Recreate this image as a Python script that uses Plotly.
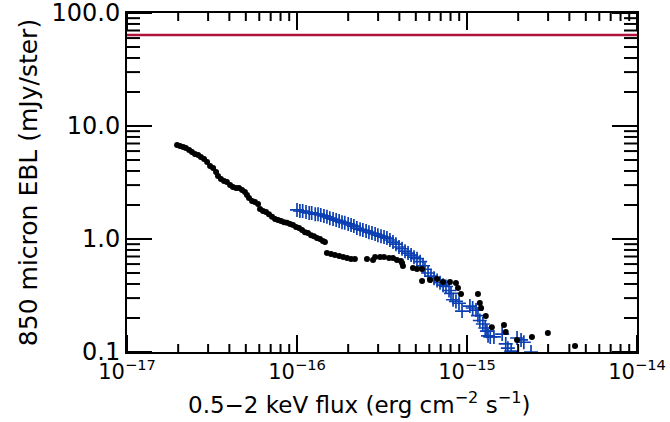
import plotly.graph_objects as go

# Black dots: cumulative 850 micron EBL vs 0.5-2 keV flux (dense faint part + sparse bright part)
black_flux = [
    1.97e-17, 2.05e-17, 2.14e-17, 2.22e-17, 2.32e-17, 2.41e-17, 2.51e-17, 2.62e-17, 2.72e-17, 2.84e-17,
    2.96e-17, 3.08e-17, 3.21e-17, 3.34e-17, 3.43e-17, 3.57e-17, 3.72e-17, 3.87e-17, 4.04e-17, 4.20e-17,
    4.38e-17, 4.56e-17, 4.75e-17, 4.94e-17, 5.08e-17, 5.22e-17, 5.44e-17, 5.66e-17, 5.90e-17, 6.06e-17,
    6.31e-17, 6.57e-17, 6.84e-17, 7.13e-17, 7.43e-17, 7.73e-17, 8.05e-17, 8.39e-17, 8.73e-17, 9.10e-17,
    9.47e-17, 9.87e-17, 1.028e-16, 1.07e-16, 1.114e-16, 1.16e-16, 1.21e-16, 1.259e-16, 1.31e-16, 1.365e-16,
    1.42e-16, 1.46e-16,
    1.50e-16, 1.585e-16, 1.67e-16, 1.77e-16, 1.87e-16, 1.97e-16, 2.08e-16, 2.19e-16, 2.58e-16, 2.80e-16,
    2.88e-16, 3.08e-16, 3.25e-16, 3.48e-16, 3.67e-16, 3.87e-16, 4.09e-16, 4.15e-16, 4.20e-16, 4.81e-16,
    5.08e-16, 5.44e-16, 5.44e-16, 6.06e-16, 6.67e-16, 7.23e-16, 7.94e-16, 8.61e-16, 8.85e-16, 9.22e-16,
    1.16e-15, 1.19e-15, 1.21e-15, 1.29e-15, 1.40e-15, 1.65e-15, 1.69e-15, 1.97e-15, 2.41e-15, 2.99e-15,
    4.32e-15,
]
black_ebl = [
    6.79, 6.65, 6.52, 6.39, 6.13, 5.89, 5.65, 5.54, 5.32, 5.10,
    4.80, 4.43, 4.25, 3.92, 3.61, 3.40, 3.26, 3.19, 3.01, 2.88,
    2.83, 2.83, 2.71, 2.61, 2.45, 2.31, 2.17, 2.12, 2.04, 1.84,
    1.77, 1.73, 1.66, 1.57, 1.50, 1.47, 1.44, 1.41, 1.39, 1.36,
    1.33, 1.28, 1.25, 1.20, 1.15, 1.13, 1.08, 1.06, 1.02, 1.00,
    0.96, 0.94,
    0.752, 0.736, 0.721, 0.708, 0.693, 0.679, 0.665, 0.665, 0.665, 0.652,
    0.693, 0.693, 0.693, 0.679, 0.679, 0.652, 0.638, 0.613, 0.577, 0.554,
    0.543, 0.543, 0.425, 0.434, 0.443, 0.416, 0.416, 0.408, 0.368, 0.326,
    0.326, 0.271, 0.245, 0.208, 0.166, 0.173, 0.150, 0.128, 0.136, 0.147,
    0.113,
]

# Blue crosses
blue_flux = [
    1.00e-16, 1.04e-16, 1.08e-16, 1.13e-16, 1.18e-16, 1.22e-16, 1.28e-16, 1.33e-16, 1.38e-16, 1.44e-16,
    1.50e-16, 1.56e-16, 1.63e-16, 1.70e-16, 1.77e-16, 1.84e-16, 1.91e-16, 2.00e-16, 2.08e-16, 2.16e-16,
    2.25e-16, 2.35e-16, 2.44e-16, 2.55e-16, 2.65e-16, 2.76e-16, 2.88e-16, 2.99e-16, 3.12e-16, 3.25e-16,
    3.38e-16, 3.52e-16, 3.67e-16, 3.82e-16, 3.98e-16, 4.15e-16, 4.32e-16, 4.50e-16, 4.69e-16, 4.88e-16,
    5.08e-16, 5.30e-16, 5.51e-16, 5.66e-16, 5.90e-16, 6.14e-16, 6.40e-16, 6.67e-16, 6.94e-16, 7.23e-16,
    7.52e-16, 7.84e-16, 8.05e-16, 8.28e-16, 8.61e-16, 8.97e-16, 9.35e-16, 1.04e-15, 1.08e-15, 1.13e-15,
    1.16e-15, 1.19e-15, 1.24e-15, 1.28e-15, 1.31e-15, 1.33e-15, 1.37e-15, 1.44e-15, 1.61e-15, 1.69e-15,
    1.74e-15, 1.82e-15, 1.97e-15, 2.08e-15, 2.16e-15, 2.38e-15,
]
blue_ebl = [
    1.81, 1.77, 1.77, 1.73, 1.70, 1.70, 1.66, 1.66, 1.63, 1.60,
    1.57, 1.53, 1.50, 1.47, 1.44, 1.41, 1.39, 1.36, 1.33, 1.30,
    1.25, 1.22, 1.20, 1.18, 1.15, 1.13, 1.11, 1.08, 1.06, 1.04,
    1.02, 0.98, 0.94, 0.90, 0.85, 0.82, 0.78, 0.75, 0.72, 0.69,
    0.67, 0.63, 0.58, 0.54, 0.50, 0.47, 0.45, 0.43, 0.41, 0.39,
    0.38, 0.35, 0.33, 0.29, 0.28, 0.27, 0.23, 0.255, 0.245, 0.235,
    0.21, 0.19, 0.177, 0.163, 0.153, 0.139, 0.136, 0.136, 0.144, 0.118,
    0.108, 0.102, 0.133, 0.128, 0.122, 0.100,
]

total_ebl = 64.0  # horizontal reference level (mJy/ster)

x_range = [1e-17, 1e-14]
y_range = [0.1, 100.0]
x_major = [1e-17, 1e-16, 1e-15, 1e-14]
x_minor = [k * 10.0 ** e for e in (-17, -16, -15) for k in range(2, 10)]
y_major = [0.1, 1.0, 10.0, 100.0]
y_minor = [k * 10.0 ** e for e in (-1, 0, 1) for k in range(2, 10)]

W, H = 670, 422
ML, MR, MT, MB = 127, 33, 13, 70
plot_w, plot_h = W - ML - MR, H - MT - MB
x_decades, y_decades = 3.0, 3.0

blue = "#0b3fb3"
font = "DejaVu Sans"
fig = go.Figure()
fig.add_trace(go.Scatter(
    x=blue_flux, y=blue_ebl, mode="markers",
    marker=dict(symbol="cross-thin", size=10, line=dict(width=1.7, color=blue), color=blue),
))
fig.add_trace(go.Scatter(
    x=black_flux, y=black_ebl, mode="markers",
    marker=dict(symbol="circle", size=6, color="black"),
))
fig.add_hline(y=total_ebl, line=dict(color="#b0123e", width=2.5))

# inward tick marks on all four sides, one short segment trace per tick
tick_line = dict(color="black", width=2)
for vals, length_px in ((x_major, 17), (x_minor, 8)):
    f = 10 ** (length_px * y_decades / plot_h)
    for v in vals:
        fig.add_trace(go.Scatter(x=[v, v], y=[y_range[0], y_range[0] * f], mode="lines",
                                 line=tick_line, hoverinfo="skip", cliponaxis=False))
        fig.add_trace(go.Scatter(x=[v, v], y=[y_range[1], y_range[1] / f], mode="lines",
                                 line=tick_line, hoverinfo="skip", cliponaxis=False))
for vals, length_px in ((y_major, 25), (y_minor, 13)):
    f = 10 ** (length_px * x_decades / plot_w)
    for v in vals:
        fig.add_trace(go.Scatter(x=[x_range[0], x_range[0] * f], y=[v, v], mode="lines",
                                 line=tick_line, hoverinfo="skip", cliponaxis=False))
        fig.add_trace(go.Scatter(x=[x_range[1], x_range[1] / f], y=[v, v], mode="lines",
                                 line=tick_line, hoverinfo="skip", cliponaxis=False))

fig.update_layout(
    width=W, height=H,
    margin=dict(l=ML, r=MR, t=MT, b=MB),
    plot_bgcolor="white", paper_bgcolor="white",
    showlegend=False,
    font=dict(family=font, color="black", size=23),
)
fig.update_xaxes(
    type="log", range=[-17, -14], showgrid=False, zeroline=False, automargin=False,
    showline=True, linecolor="black", linewidth=2, mirror=True,
    ticks="", tickmode="array", tickvals=x_major,
    ticktext=["10<sup>\u221217</sup>", "10<sup>\u221216</sup>", "10<sup>\u221215</sup>", "10<sup>\u221214</sup>"],
    tickfont=dict(size=21, family=font), ticklabeloverflow="allow",
)
fig.update_yaxes(
    type="log", range=[-1, 2], showgrid=False, zeroline=False, automargin=False,
    showline=True, linecolor="black", linewidth=2, mirror=True,
    ticks="", tickmode="linear", tick0=0, dtick=1, tickformat=".1f",
    tickfont=dict(size=24, family=font), ticklabeloverflow="allow",
    title=dict(text="850 micron EBL (mJy/ster)", font=dict(size=25, family=font), standoff=7),
)
fig.add_annotation(
    text="0.5\u22122 keV flux (erg cm<sup>\u22122</sup> s<sup>\u22121</sup>)",
    xref="paper", yref="paper", x=0.455, y=-0.150, xanchor="center", yanchor="middle",
    showarrow=False, font=dict(size=23, family=font, color="black"),
)
fig.write_html("out.html", config={"displayModeBar": False},
               post_script="document.body.style.margin='0px';")
